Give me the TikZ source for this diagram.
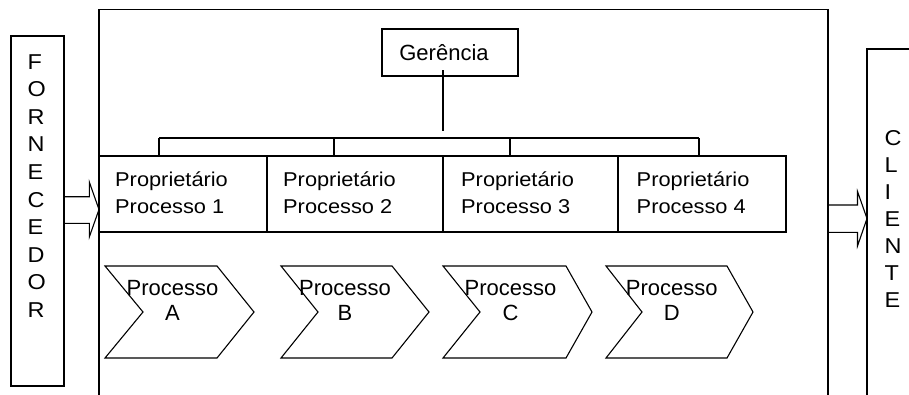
\documentclass[tikz,border=0pt]{standalone}
\usepackage{fontspec}
\setmainfont{Liberation Sans}
\newfontfamily\widefont[FakeStretch=1.09]{Liberation Sans}

\tikzset{
  line/.style={line width=1.1pt, line join=miter},
  ownerbox/.style={draw, line width=1.1pt, fill=white, minimum height=76pt,
    inner sep=0pt, outer sep=0pt, anchor=north west},
  ownertext/.style={anchor=base west, inner sep=0pt,
    font=\widefont\fontsize{20}{26.7}\selectfont},
  proctext/.style={anchor=base, inner sep=0pt,
    font=\fontsize{22}{25.7}\selectfont},
  letter/.style={anchor=base west, inner sep=0pt,
    font=\widefont\fontsize{21.5}{24}\selectfont},
  sidebox/.style={draw, line width=1.1pt, inner sep=0pt, outer sep=0pt},
}

\begin{document}
\begin{tikzpicture}[x=1pt, y=-1pt]
  \useasboundingbox[fill=white] (0,0) rectangle (909,394);

  % company frame (open at the bottom)
  \draw[line] (99,400) -- (99,9.5) -- (828,9.5) -- (828,400);

  % supplier column
  \node[sidebox, minimum width=53pt, minimum height=350pt] (forn) at (37.5,211) {};
  \foreach \ch [count=\i from 0] in {F,O,R,N,E,C,E,D,O,R}
    \node[letter] (f\i) at (27.5, {69+27.6*\i}) {\ch};

  % customer column (runs off to the right and bottom)
  \coordinate (cli) at (867,49);
  \draw[line] (867,400) -- (cli) -- (915,49);
  \foreach \ch [count=\i from 0] in {C,L,I,E,N,T,E}
    \node[letter] (c\i) at (884.3, {145+27.1*\i}) {\ch};

  % input arrow: supplier -> company
  \draw[line] (forn.east |- 0,196.7) -- (89.3,196.7) -- (89.3,182) -- (99,209.5)
    -- (89.3,237) -- (89.3,223.3) -- (forn.east |- 0,223.3);

  % output arrow: company -> customer
  \draw[line] (828,205) -- (857.5,205) -- (857.5,191.5) -- (cli |- 0,218.5)
    -- (857.5,246) -- (857.5,232.3) -- (828,232.3);

  % management
  \node[sidebox, minimum width=136pt, minimum height=47pt,
        text height=15.5pt, text depth=0pt,
        font=\fontsize{22}{26}\selectfont] (ger) at (450,52.5) {\hspace*{-12pt}Gerência};

  % process owners
  \node[ownerbox, minimum width=182pt] (p1) at (99,156) {};
  \node[ownerbox, minimum width=176pt] (p2) at (267,156) {};
  \node[ownerbox, minimum width=182pt] (p3) at (443,156) {};
  \node[ownerbox, minimum width=168pt] (p4) at (618,156) {};

  \node[ownertext] (t1) at (115,186.7) {\vtop{\hbox{Proprietário}\hbox{Processo 1}}};
  \node[ownertext] (t2) at (283,186.7) {\vtop{\hbox{Proprietário}\hbox{Processo 2}}};
  \node[ownertext] (t3) at (461,186.7) {\vtop{\hbox{Proprietário}\hbox{Processo 3}}};
  \node[ownertext] (t4) at (636.5,186.7) {\vtop{\hbox{Proprietário}\hbox{Processo 4}}};

  % organisation tree
  \coordinate (hub) at (443,131);
  \coordinate (b1) at (159,138);
  \coordinate (b2) at (334,138);
  \coordinate (b3) at (510,138);
  \coordinate (b4) at (699,138);
  \draw[line] ([yshift=6pt]ger.south -| hub) -- (hub);
  \draw[line] (b1) -- (b4);
  \draw[line] (b1) -- (b1 |- p1.north);
  \draw[line] (b2) -- (b2 |- p2.north);
  \draw[line] (b3) -- (b3 |- p3.north);
  \draw[line] (b4) -- (b4 |- p4.north);

  % process chevrons
  \foreach \L/\R/\T/\N/\c/\lab in {105/217/254/143/172.5/A, 281/392/429/318/345/B,
                                   443/566/592/480/510.5/C, 606/727/753/642/671.7/D}{
    \draw[line] (\L,266) -- (\R,266) -- (\T,312) -- (\R,358) -- (\L,358) -- (\N,312) -- cycle;
    \node[proctext] (proc\lab) at (\c,295) {\vtop{\halign{\hfil##\hfil\cr Processo\cr \lab\cr}}};
  }
\end{tikzpicture}
\end{document}
